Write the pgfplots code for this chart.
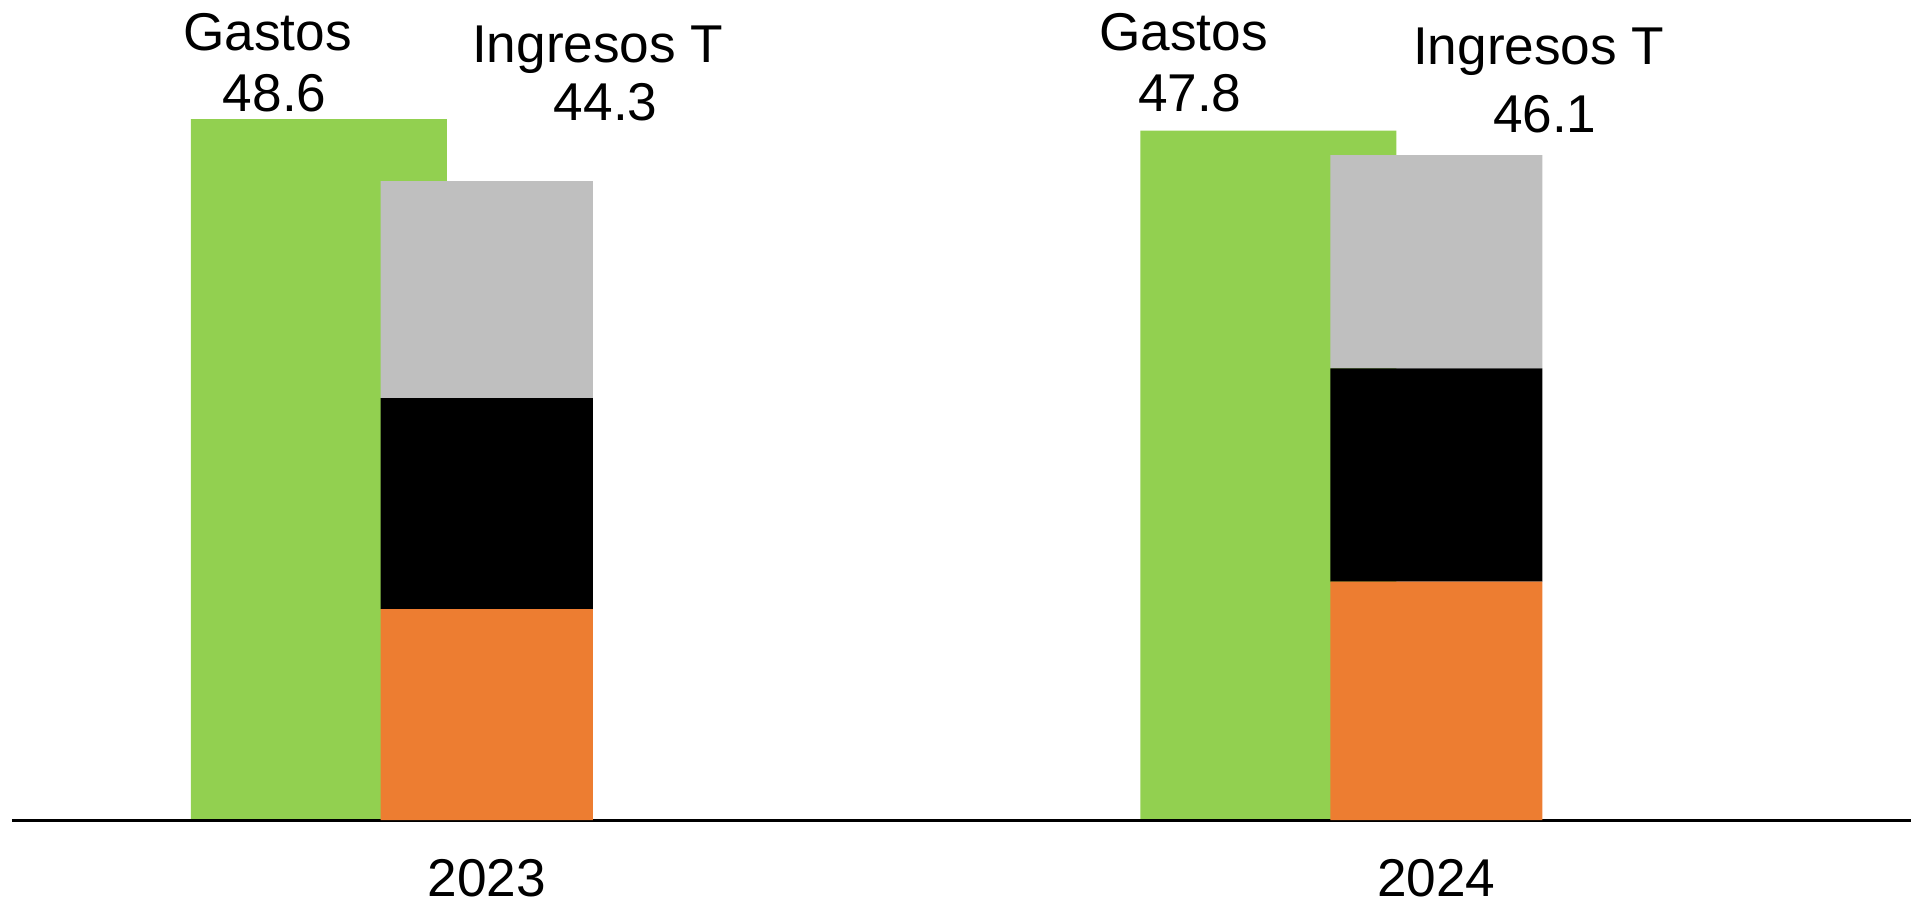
\documentclass[border=0pt]{standalone}
\usepackage{fontspec}
\setmainfont{Liberation Sans}
\usepackage{pgfplots}
\pgfplotsset{compat=1.18}
\usepackage{pgfplotstable}

\definecolor{gastos}{HTML}{92D050}
\definecolor{rgris}{HTML}{BFBFBF}
\definecolor{rnegro}{HTML}{000000}
\definecolor{rnaranja}{HTML}{ED7D31}

\newcommand\lab{\fontsize{13.3pt}{15.9pt}\selectfont}

% Ingresos totales, split into three components per year
\pgfplotstableread{
x orange black gray
0 14.63 14.63 15.04
1 16.53 14.79 14.78
}\ingresos

% Gastos, drawn slightly to the left of each year
\pgfplotstableread{
x gastos
-0.1769 48.6
0.8231 47.8
}\gastos

\pgfplotsset{base/.style={
  at={(0,0)}, anchor=south west, scale only axis,
  width=474.75pt, height=205pt,
  xmin=-0.5, xmax=1.5, ymin=0, ymax=56.86, clip=false,
  ytick=\empty, axis y line=none}}

\begin{document}
\begin{tikzpicture}
\path[use as bounding box] (-3pt,-20.75pt) rectangle (475.5pt,205pt);
\begin{axis}[base, hide axis, xtick=\empty]
  \addplot[ybar, bar width=0.2696, bar shift=0pt, fill=gastos, draw=none]
    table[x=x, y=gastos] {\gastos};
\end{axis}
\begin{axis}[base, ybar stacked, bar width=0.2233,
  axis x line*=bottom,
  x axis line style={-, line width=0.75pt},
  xtick={0,1}, xticklabels={2023,2024},
  major tick length=0pt,
  xticklabel style={font=\lab, anchor=base, yshift=-19pt}]
  \addplot[fill=rnaranja, draw=none] table[x=x, y=orange] {\ingresos};
  \addplot[fill=rnegro, draw=none] table[x=x, y=black] {\ingresos};
  \addplot[fill=rgris, draw=none] table[x=x, y=gray] {\ingresos};
  \node[anchor=base, font=\lab] at (axis cs:-0.2307,53.33) {Gastos};
  \node[anchor=base, font=\lab] at (axis cs:-0.2233,49.10) {48.6};
  \node[anchor=base, font=\lab] at (axis cs:0.1169,52.50) {Ingresos T};
  \node[anchor=base, font=\lab] at (axis cs:0.1253,48.47) {44.3};
  \node[anchor=base, font=\lab] at (axis cs:0.7340,53.33) {Gastos};
  \node[anchor=base, font=\lab] at (axis cs:0.7404,49.10) {47.8};
  \node[anchor=base, font=\lab] at (axis cs:1.1080,52.36) {Ingresos T};
  \node[anchor=base, font=\lab] at (axis cs:1.1143,47.70) {46.1};
\end{axis}
\end{tikzpicture}
\end{document}
